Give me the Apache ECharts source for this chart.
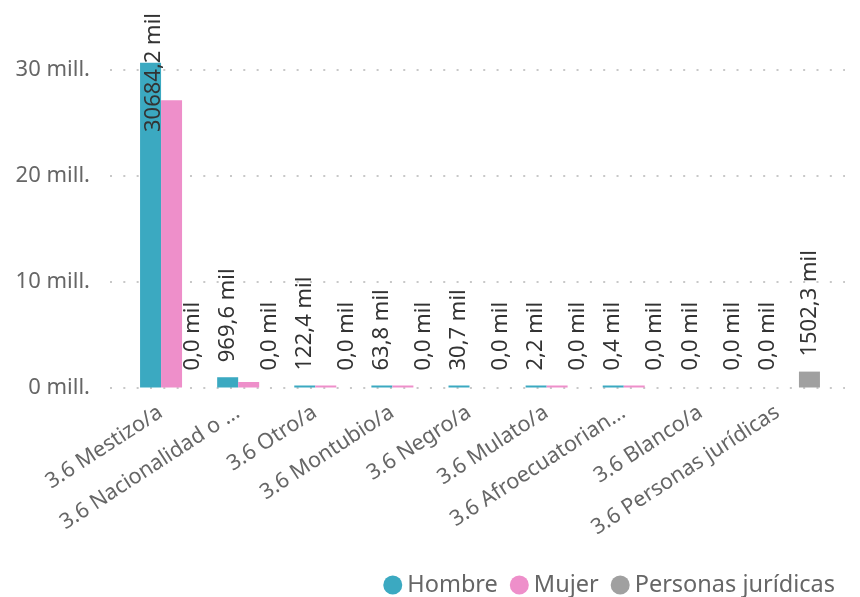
<!DOCTYPE html>
<html><head><meta charset="utf-8">
<script src="https://cdn.jsdelivr.net/npm/echarts@6/dist/echarts.min.js"></script>
<style>html,body{margin:0;padding:0;background:#fff}#c{width:860px;height:597px}</style>
</head><body><div id="c"></div>
<script>
const categories = ['3.6 Mestizo/a', '3.6 Nacionalidad o …', '3.6 Otro/a', '3.6 Montubio/a', '3.6 Negro/a', '3.6 Mulato/a', '3.6 Afroecuatorian…', '3.6 Blanco/a', '3.6 Personas jurídicas'];
const seriesNames = ['Hombre', 'Mujer', 'Personas jurídicas'];
const hombre = [30684200, 969600, 122400, 63800, 30700, 2200, 400, 0, 0];
const mujer = [27150000, 520000, 110000, 60000, 0, 1800, 350, 0, 0];
const personasJuridicas = [0, 0, 0, 0, 0, 0, 0, 0, 1502300];
const yTicks = [0, 10000000, 20000000, 30000000];

const FONT = 'Noto Sans';
const colors = ['#3BA9C1', '#EE8FCA', '#A0A0A0'];

function toItems(arr) {
  return arr.map(v => v === 0 ? { value: v, itemStyle: { color: 'rgba(0,0,0,0)' } } : v);
}
const fmtMil = p => (p.value / 1000).toFixed(1).replace('.', ',') + ' mil';
const TOP_LIMIT = 13;
function clampLabel(p) {
  if (p.labelRect && p.labelRect.y < TOP_LIMIT) {
    return { y: TOP_LIMIT + p.labelRect.height };
  }
}
function barSeries(name, data, color, withLabel) {
  return {
    name, type: 'bar', xAxisIndex: 1, yAxisIndex: 1,
    data: toItems(data), barGap: '0%', barCategoryGap: '18.3%', barMinHeight: 2,
    itemStyle: { color },
    label: {
      show: withLabel, position: 'top', distance: 15, rotate: 90, offset: [0, 3],
      align: 'left', verticalAlign: 'middle',
      formatter: fmtMil, fontSize: 22, color: '#333', fontFamily: FONT
    },
    labelLayout: clampLabel
  };
}

const chart = echarts.init(document.getElementById('c'), null, { renderer: 'canvas' });
chart.setOption({
  animation: false,
  backgroundColor: '#fff',
  grid: [
    { left: 110, right: 15, top: 70, bottom: 209.5 },
    { left: 133, right: 33, top: 59.4, bottom: 209.5 }
  ],
  xAxis: [
    { type: 'value', gridIndex: 0, show: false },
    {
      type: 'category', gridIndex: 1, data: categories,
      axisLine: { show: false }, axisTick: { show: false },
      axisLabel: { interval: 0, rotate: 33, margin: 16, padding: [0, 13, 0, 0], fontSize: 21.5, color: '#666', fontFamily: FONT }
    }
  ],
  yAxis: [
    {
      type: 'value', gridIndex: 0, min: yTicks[0], max: yTicks[yTicks.length - 1], interval: yTicks[1] - yTicks[0],
      axisLine: { show: false }, axisTick: { show: false },
      axisLabel: { margin: 20, fontSize: 22, color: '#666', fontFamily: FONT, formatter: v => (v / 1000000) + ' mill.' },
      splitLine: { show: true, lineStyle: { color: '#C8C8C8', width: 2, type: [2, 11.33] } }
    },
    { type: 'value', gridIndex: 1, min: 0, max: 31000000, show: false, splitLine: { show: false } }
  ],
  legend: {
    data: seriesNames, right: 20, top: 568, icon: 'circle', itemWidth: 19, itemHeight: 19, itemGap: 12,
    textStyle: { fontSize: 23.5, color: '#666', fontFamily: FONT }
  },
  series: [
    barSeries(seriesNames[0], hombre, colors[0], true),
    barSeries(seriesNames[1], mujer, colors[1], false),
    barSeries(seriesNames[2], personasJuridicas, colors[2], true)
  ]
});
</script></body></html>
